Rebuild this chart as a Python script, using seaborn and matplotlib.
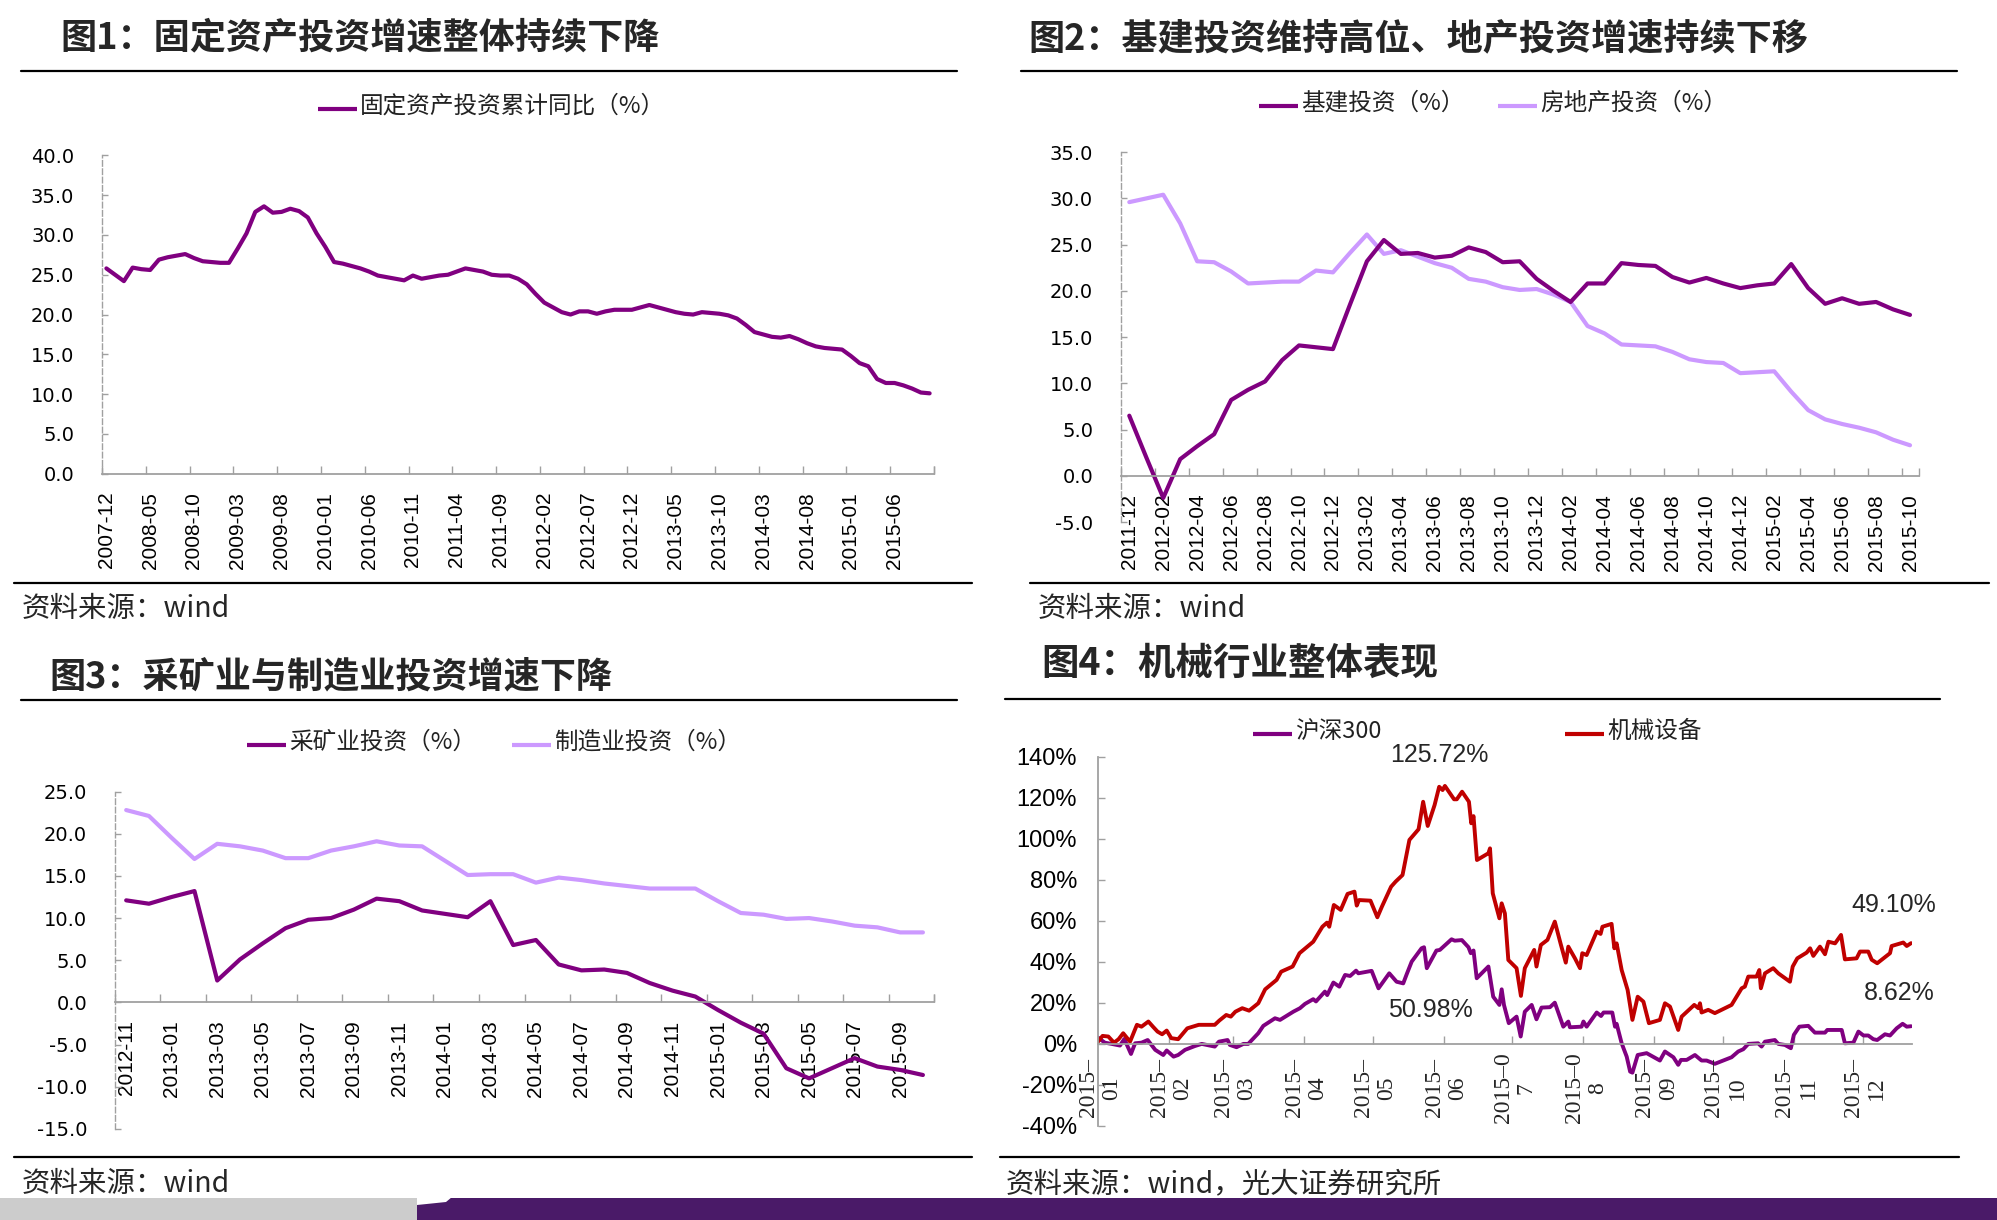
import numpy as np
import pandas as pd
import matplotlib
matplotlib.use('Agg')
import matplotlib.pyplot as plt
from matplotlib.lines import Line2D
from matplotlib.patches import Rectangle, Polygon
import seaborn as sns

sns.set_theme(style='white')
plt.rcParams['font.family'] = ['Noto Sans CJK SC', 'DejaVu Sans']
plt.rcParams['axes.unicode_minus'] = False

# ---- data ----
# fig 1: fixed asset investment, cumulative yoy (%), 2007-12 .. 2015-10
fai_labels = ['2007-12', '2008-05', '2008-10', '2009-03', '2009-08', '2010-01', '2010-06',
              '2010-11', '2011-04', '2011-09', '2012-02', '2012-07', '2012-12', '2013-05',
              '2013-10', '2014-03', '2014-08', '2015-01', '2015-06']
fai = [25.8, 25.0, 24.2, 25.9, 25.7, 25.6, 26.9, 27.2, 27.4, 27.6,
       27.1, 26.7, 26.6, 26.5, 26.5, 28.3, 30.2, 32.9, 33.6, 32.8,
       32.9, 33.3, 33.0, 32.2, 30.2, 28.5, 26.6, 26.4, 26.1, 25.8,
       25.4, 24.9, 24.7, 24.5, 24.3, 24.9, 24.5, 24.7, 24.9, 25.0,
       25.4, 25.8, 25.6, 25.4, 25.0, 24.9, 24.9, 24.5, 23.8, 22.6,
       21.5, 20.9, 20.3, 20.0, 20.4, 20.4, 20.1, 20.4, 20.6, 20.6,
       20.6, 20.9, 21.2, 20.9, 20.6, 20.3, 20.1, 20.0, 20.3, 20.2,
       20.1, 19.9, 19.5, 18.7, 17.8, 17.5, 17.2, 17.1, 17.3, 16.9,
       16.4, 16.0, 15.8, 15.7, 15.6, 14.8, 13.9, 13.5, 11.9, 11.4,
       11.4, 11.1, 10.7, 10.2, 10.1]

# fig 2: infrastructure vs real estate investment (%), 2011-12 .. 2015-10
infra_labels = ['2011-12', '2012-02', '2012-04', '2012-06', '2012-08', '2012-10', '2012-12',
                '2013-02', '2013-04', '2013-06', '2013-08', '2013-10', '2013-12', '2014-02',
                '2014-04', '2014-06', '2014-08', '2014-10', '2014-12', '2015-02', '2015-04',
                '2015-06', '2015-08', '2015-10']
infra = [6.5, 2.0, -2.4, 1.8, 3.2, 4.5, 8.2, 9.3, 10.2, 12.5,
         14.1, 13.9, 13.7, 18.5, 23.2, 25.5, 24.0, 24.1, 23.6, 23.8,
         24.7, 24.2, 23.1, 23.2, 21.3, 20.0, 18.8, 20.8, 20.8, 23.0,
         22.8, 22.7, 21.5, 20.9, 21.4, 20.8, 20.3, 20.6, 20.8, 22.9,
         20.3, 18.6, 19.2, 18.6, 18.8, 18.0, 17.4]
realestate = [29.6, 30.0, 30.4, 27.3, 23.2, 23.1, 22.1, 20.8, 20.9, 21.0,
              21.0, 22.2, 22.0, 24.1, 26.1, 24.0, 24.4, 23.7, 23.0, 22.5,
              21.3, 21.0, 20.4, 20.1, 20.2, 19.6, 18.8, 16.2, 15.4, 14.2,
              14.1, 14.0, 13.4, 12.6, 12.3, 12.2, 11.1, 11.2, 11.3, 9.1,
              7.1, 6.1, 5.6, 5.2, 4.7, 3.9, 3.3]

# fig 3: mining vs manufacturing investment (%), 2012-11 .. 2015-10
mfg_labels = ['2012-11', '2013-01', '2013-03', '2013-05', '2013-07', '2013-09', '2013-11',
              '2014-01', '2014-03', '2014-05', '2014-07', '2014-09', '2014-11', '2015-01',
              '2015-03', '2015-05', '2015-07', '2015-09']
mining = [12.1, 11.7, 12.5, 13.2, 2.6, 5.1, 7.0, 8.8, 9.8, 10.0,
          11.0, 12.3, 12.0, 10.9, 10.5, 10.1, 12.0, 6.8, 7.4, 4.5,
          3.8, 3.9, 3.5, 2.3, 1.4, 0.7, -0.9, -2.4, -3.7, -7.8,
          -9.0, -7.8, -6.6, -7.6, -8.0, -8.6]
manufacturing = [22.8, 22.1, 19.5, 17.0, 18.8, 18.5, 18.0, 17.1, 17.1, 18.0,
                 18.5, 19.1, 18.6, 18.5, 16.8, 15.1, 15.2, 15.2, 14.2, 14.8,
                 14.5, 14.1, 13.8, 13.5, 13.5, 13.5, 12.0, 10.6, 10.4, 9.9,
                 10.0, 9.6, 9.1, 8.9, 8.3, 8.3]

# fig 4: 2015 cumulative return (%), x = days since 2015-01-01
hs300_day = [0, 3, 6, 9.6, 11.5, 14.4, 16.2, 19, 21.7, 25, 28.5, 30, 33, 35, 38, 42.4, 45.3,
             51, 52.8, 56.6, 57.6, 60.5, 63.5, 65.6, 70, 72.2, 77.3, 79.5, 85.3, 88.2, 90.4,
             94, 95.2, 99.1, 100.1, 102.8, 105.4, 107.9, 110.1, 112.7, 113.7, 119.5, 122.5,
             127.2, 130.4, 133.3, 134.8, 137, 141.3, 142.4, 143.6, 147.8, 149.3, 154.4, 155.8,
             158.9, 161.8, 162.8, 164, 165.4, 170.5, 172.6, 175.3, 176.3, 177.3, 179.4, 182.8,
             184.6, 186.4, 189.4, 191.5, 193.7, 197.4, 199.5, 203.2, 205.4, 206.1, 211.2, 212,
             213.4, 217.8, 219.7, 220.8, 224.6, 225.8, 226.5, 228.7, 230.9, 232.4, 233.4,
             235.7, 239.6, 245.4, 247.6, 251.3, 253.4, 254.6, 257.1, 260.7, 263.6, 265.8,
             269.4, 276.7, 279.6, 281.8, 284, 288.3, 289.8, 291.3, 295.6, 297.1, 300, 302.6,
             303.9, 306.3, 310.2, 313.1, 317.5, 318.5, 324.8, 326.2, 329.9, 332.1, 334.3,
             336.4, 338.6, 340.3, 343.7, 345.9, 348.8, 351.4, 353.2, 355.1]
hs300 = [3.1, 0.6, 0.0, -0.8, 2.4, -4.9, 0.3, 0.6, 1.9, -2.9, -5.4, -3.2, -6.2, -5.4, -2.9, -1.0, 0.0,
         -1.3, 1.1, 1.9, -0.5, -1.6, 0.0, 0.0, 5.2, 8.8, 12.5, 11.7, 15.7, 17.4, 19.5,
         21.8, 20.7, 25.5, 23.8, 29.9, 27.9, 33.6, 33.1, 35.7, 34.4, 35.6, 27.1,
         34.4, 30.3, 29.5, 33.9, 40.1, 46.6, 47.1, 36.9, 45.5, 45.8, 50.98, 50.3,
         50.6, 47.1, 44.2, 45.5, 32.0, 37.7, 23.0, 19.0, 26.6, 19.0, 10.1, 13.3,
         3.6, 15.7, 19.0, 12.0, 17.7, 17.9, 20.1, 8.4, 10.9, 8.1, 8.4, 10.9,
         8.4, 15.3, 13.6, 15.3, 15.3, 8.4, 9.8, 0.3, -6.2, -13.5, -14.0,
         -5.4, -4.5, -8.1, -3.7, -6.5, -10.2, -7.8, -7.8, -5.4, -8.1, -8.1,
         -9.7, -6.5, -3.7, -2.6, 0.0, 0.3, -1.3, 1.1, 1.9, 0.0, -0.5, -2.1,
         4.4, 8.4, 8.8, 5.5, 5.5, 6.8, 6.8, 0.3, 0.6, 6.0, 4.1,
         4.1, 2.3, 1.9, 4.7, 4.1, 7.6, 9.8, 8.4, 8.62]
mach_day = [0, 2, 4.5, 7, 9, 11, 14, 17, 19, 22, 24, 26, 28, 30, 32, 35, 39, 44, 51, 53, 56, 58,
            60, 63, 66, 70, 73, 78, 80, 85, 88, 94, 98, 100, 101, 103, 106, 109, 112, 113,
            114, 119, 122, 124, 128, 130, 133, 136, 140, 142, 144, 147, 149, 150.5, 151.5,
            155.5, 156.7, 159, 162, 163, 164, 165.5, 170.5, 171.2, 172.4, 175.3, 176.3,
            177.7, 179.2, 182.8, 184.7, 186.4, 190.5, 191.5, 193.4, 196.3, 199.5, 202,
            204.3, 205.4, 208.3, 210.5, 211.5, 213.4, 217.8, 219.5, 220.3, 224.3, 225.5,
            226.5, 228.7, 231.3, 233.4, 235.7, 238.2, 240.6, 245.4, 247.6, 249.8, 253.4,
            254.9, 260.4, 262.2, 262.9, 263.6, 266.5, 269.4, 276.7, 281.1, 282.5, 284,
            287.6, 288.8, 289.5, 291.3, 294.9, 297.1, 302.2, 303.4, 305.4, 309.5, 311,
            312.4, 315.3, 317.5, 319, 321.9, 324.5, 326.2, 331.3, 332.8, 336.4, 337.9,
            340.3, 345.9, 346.6, 351.7, 353.2, 355.1]
machinery = [1.1, 3.9, 3.6, 0.6, 2.3, 5.2, 1.1, 9.3, 8.4, 10.9, 8.4, 6.0, 4.7, 6.5, 2.8, 2.3, 7.6,
             9.3, 9.3, 11.4, 14.1, 13.3, 15.7, 17.4, 16.2, 19.8, 26.6, 31.2, 35.2, 37.7, 44.2,
             49.8, 57.1, 59.1, 57.1, 67.7, 65.3, 73.1, 74.2, 67.4, 70.1, 69.8, 61.7, 66.9,
             76.6, 79.1, 82.3, 99.4, 104.6, 118.0, 106.2, 116.4, 125.3, 123.7, 125.72,
             119.2, 119.2, 122.9, 118.0, 107.5, 111.0, 89.6, 92.9, 95.3, 73.4, 61.2, 68.5,
             63.6, 40.9, 36.9, 23.4, 36.9, 45.8, 37.7, 48.2, 50.7, 59.6, 49.0,
             39.6, 47.4, 41.7, 36.9, 44.2, 43.3, 54.7, 53.6, 57.1, 58.5, 46.6,
             49.0, 36.0, 26.3, 11.7, 23.0, 20.6, 10.1, 11.7, 19.8, 18.2, 6.8,
             13.3, 19.0, 17.4, 19.8, 15.3, 16.6, 15.0, 19.0, 27.1, 27.9, 32.8,
             32.8, 36.0, 27.1, 34.4, 36.9, 34.4, 30.3, 37.7, 41.7, 44.5, 46.6,
             42.9, 47.4, 43.7, 49.8, 49.0, 53.1, 41.2, 41.7, 45.0, 45.0, 41.0,
             39.3, 44.2, 47.7, 49.4, 47.7, 49.1]
month_start = [0, 31, 59, 90, 120, 151, 181, 212, 243, 273, 304, 334]
month_labels = ['2015\u2013\n01', '2015\u2013\n02', '2015\u2013\n03', '2015\u2013\n04',
                '2015\u2013\n05', '2015\u2013\n06', '2015\u20130\n7', '2015\u20130\n8',
                '2015\u2013\n09', '2015\u2013\n10', '2015\u2013\n11', '2015\u2013\n12']

DARK = '#800080'
LIGHT = '#cc99ff'
RED = '#c00000'
GRAY = '#a0a0a0'
W, H = 1997, 1220

fig = plt.figure(figsize=(W / 100, H / 100), dpi=100)


def fx(px):
    return px / W


def fy(py):
    return 1 - py / H


def rule(x0, x1, y, lw=1.6):
    fig.add_artist(Line2D([fx(x0), fx(x1)], [fy(y), fy(y)], color='black', lw=lw))


def title(x, y, s, size=26):
    fig.text(fx(x), fy(y), s, fontsize=size, fontweight='bold', ha='left', va='center')


def legend_item(x, y, color, label):
    fig.add_artist(Line2D([fx(x), fx(x + 39)], [fy(y + 3), fy(y + 3)], color=color, lw=3,
                          solid_capstyle='butt'))
    fig.text(fx(x + 42), fy(y), label, fontsize=17, color='#222222', ha='left', va='center')


def source(x, y, s):
    fig.text(fx(x), fy(y), s, fontsize=20.5, ha='left', va='center')


def cat_axes(left, right, top, bottom, n, ylim, ystep, step, labels):
    ax = fig.add_axes([fx(left), fy(bottom), fx(right) - fx(left), (bottom - top) / H])
    ax.set_xlim(-0.5, n - 0.5)
    ax.set_ylim(*ylim)
    for s in ['top', 'right']:
        ax.spines[s].set_visible(False)
    ax.spines['left'].set_color(GRAY)
    ax.spines['left'].set_linestyle((0, (4, 2)))
    ax.spines['left'].set_linewidth(1)
    ax.spines['bottom'].set_color(GRAY)
    ax.spines['bottom'].set_linewidth(1.3)
    ax.spines['bottom'].set_position(('data', 0))
    yt = np.arange(ylim[0], ylim[1] + 0.01, ystep)
    ax.set_yticks(yt)
    ax.set_yticklabels([f'{v:.1f}' for v in yt])
    ax.tick_params(axis='y', left=True, direction='in', length=4, width=1, color=GRAY,
                   pad=20, labelsize=14, labelcolor='black', labelfontfamily='DejaVu Sans')
    ax.set_xticks(range(0, n, step))
    ax.set_xticklabels(labels, rotation=90)
    ax.tick_params(axis='x', which='major', bottom=True, length=0, pad=13, labelsize=15,
                   labelcolor='black', labelfontfamily='Liberation Sans')
    ax.set_xticks(list(np.arange(-0.5, n, step)) + [n - 0.5], minor=True)
    ax.tick_params(axis='x', which='minor', bottom=True, direction='in', length=6, width=1,
                   color=GRAY)
    ax.set_xlabel('')
    ax.set_ylabel('')
    return ax


# ---- fig 1 ----
title(60, 38, '图1：固定资产投资增速整体持续下降')
rule(21, 957, 70.5)
legend_item(318, 106, DARK, '固定资产投资累计同比（%）')
ax1 = cat_axes(102, 934, 155.4, 473.7, len(fai), (0, 40), 5, 5, fai_labels)
sns.lineplot(x=np.arange(len(fai)), y=fai, ax=ax1, color=DARK, lw=3, estimator=None)
rule(14, 972, 582.5)
source(22, 609, '资料来源：wind')

# ---- fig 2 ----
title(1028, 39, '图2：基建投资维持高位、地产投资增速持续下移')
rule(1021, 1957, 70.5)
legend_item(1259, 103, DARK, '基建投资（%）')
legend_item(1498, 103, LIGHT, '房地产投资（%）')
ax2 = cat_axes(1120.8, 1918.5, 152.2, 522, len(infra), (-5, 35), 5, 2, infra_labels)
sns.lineplot(x=np.arange(len(realestate)), y=realestate, ax=ax2, color=LIGHT, lw=3,
             estimator=None)
sns.lineplot(x=np.arange(len(infra)), y=infra, ax=ax2, color=DARK, lw=3, estimator=None)
rule(1030, 1989, 582.5)
source(1038, 609, '资料来源：wind')

# ---- fig 3 ----
title(49, 677, '图3：采矿业与制造业投资增速下降')
rule(21, 957, 700)
legend_item(247, 742, DARK, '采矿业投资（%）')
legend_item(512, 742, LIGHT, '制造业投资（%）')
ax3 = cat_axes(114.8, 934.3, 791.5, 1129, len(mining), (-15, 25), 5, 2, mfg_labels)
sns.lineplot(x=np.arange(len(manufacturing)), y=manufacturing, ax=ax3, color=LIGHT, lw=3,
             estimator=None)
sns.lineplot(x=np.arange(len(mining)), y=mining, ax=ax3, color=DARK, lw=3, estimator=None)
rule(14, 972, 1157)
source(22, 1184, '资料来源：wind')

# ---- fig 4 ----
title(1041, 663, '图4：机械行业整体表现', size=27)
rule(1005, 1940, 699)
legend_item(1253, 731, DARK, '沪深300')
legend_item(1565, 731, RED, '机械设备')
ax4 = fig.add_axes([fx(1098), fy(1126), fx(1912) - fx(1098), (1126 - 756.6) / H])
ax4.set_xlim(0, 355.5)
ax4.set_ylim(-40, 140)
for s in ['top', 'right']:
    ax4.spines[s].set_visible(False)
ax4.spines['left'].set_color(GRAY)
ax4.spines['left'].set_linewidth(1.3)
ax4.spines['bottom'].set_color(GRAY)
ax4.spines['bottom'].set_linewidth(1.3)
ax4.spines['bottom'].set_position(('data', 0))
yt4 = np.arange(-40, 141, 20)
ax4.set_yticks(yt4)
ax4.set_yticklabels([f'{v}%' for v in yt4])
ax4.tick_params(axis='y', left=True, direction='in', length=5, width=1, color=GRAY, pad=15,
                labelsize=17, labelcolor='black', labelfontfamily='Liberation Sans')
ax4.set_xticks(month_start)
ax4.set_xticklabels([''] * len(month_start))
ax4.tick_params(axis='x', bottom=True, direction='in', length=6, width=1, color=GRAY)
sns.lineplot(x=hs300_day, y=hs300, ax=ax4, color=DARK, lw=2.8, estimator=None, sort=False)
sns.lineplot(x=mach_day, y=machinery, ax=ax4, color=RED, lw=2.8, estimator=None, sort=False)
for d, lab in zip(month_start, month_labels):
    ax4.text(d + 1, -21.4, lab, rotation=90, ha='center', va='center', multialignment='center',
             fontsize=17, family='Liberation Serif', linespacing=1.15, clip_on=False)
ax4.set_xlabel('')
ax4.set_ylabel('')
ann = dict(ha='center', va='center', fontsize=18, family='Liberation Sans', clip_on=False)
ax4.text(149, 141, f'{max(machinery):.2f}%', **ann)
ax4.text(145, 16.6, f'{max(hs300):.2f}%', **ann)
ax4.text(347.6, 67.5, f'{machinery[-1]:.2f}%', **ann)
ax4.text(350, 24.8, f'{hs300[-1]:.2f}%', **ann)
rule(1000, 1959, 1157)
source(1006, 1184, '资料来源：wind，光大证券研究所')

# bottom band
fig.add_artist(Rectangle((0, 0), fx(417), 22.5 / H, transform=fig.transFigure,
                         color='#cccccc', lw=0))
fig.add_artist(Rectangle((fx(417), 0), 1 - fx(417), 22.5 / H, transform=fig.transFigure,
                         color='#4a1a68', lw=0))
fig.add_artist(Polygon([(fx(417), fy(1197)), (fx(452), fy(1197)), (fx(446), fy(1202)),
                        (fx(417), fy(1205))], closed=True, transform=fig.transFigure,
                       color='white', lw=0))

fig.savefig('out.png', dpi=100, facecolor='white')
